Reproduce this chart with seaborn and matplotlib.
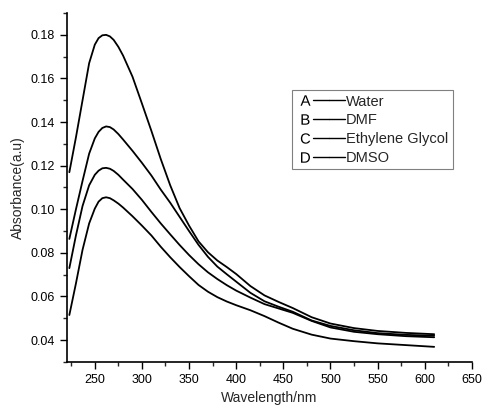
import numpy as np
import pandas as pd
import matplotlib
matplotlib.use("Agg")
import matplotlib.pyplot as plt
from matplotlib.lines import Line2D
from matplotlib.legend_handler import HandlerTuple
from matplotlib.ticker import MultipleLocator
import seaborn as sns

# Values
wavelength = [223, 230, 237, 244, 250, 254, 258, 262, 266, 270, 275, 280, 290, 300, 310, 320,
              330, 340, 350, 360, 370, 380, 390, 400, 415, 430, 445, 460, 480, 500, 525, 550,
              580, 610]
water = [0.117, 0.133, 0.150, 0.167, 0.1755, 0.1785, 0.1798, 0.180, 0.1793, 0.1777, 0.1745,
         0.1705, 0.1608, 0.1485, 0.136, 0.123, 0.111, 0.1005, 0.0925, 0.0853, 0.0803, 0.0765,
         0.0735, 0.0703, 0.0648, 0.0605, 0.0575, 0.0547, 0.0505, 0.0476, 0.0455, 0.0442,
         0.0433, 0.0427]
dmf = [0.0864, 0.100, 0.113, 0.1255, 0.1325, 0.1355, 0.1373, 0.138, 0.1377, 0.1366, 0.1345,
       0.132, 0.1268, 0.1213, 0.1155, 0.109, 0.103, 0.0965, 0.090, 0.0837, 0.0782, 0.0737,
       0.0702, 0.0668, 0.0617, 0.0578, 0.0553, 0.053, 0.049, 0.0465, 0.0445, 0.0432, 0.0424,
       0.0420]
glycol = [0.073, 0.088, 0.1015, 0.111, 0.1158, 0.1177, 0.1188, 0.119, 0.1186, 0.1176, 0.1158,
          0.1136, 0.1093, 0.1043, 0.0988, 0.0935, 0.0885, 0.0836, 0.0790, 0.0748, 0.0711,
          0.0680, 0.0652, 0.0627, 0.0595, 0.0565, 0.0545, 0.0525, 0.0488, 0.0458, 0.0438,
          0.0427, 0.0418, 0.0413]
dmso = [0.0515, 0.066, 0.0814, 0.0935, 0.1003, 0.1035, 0.1051, 0.1055, 0.1051, 0.1041, 0.1026,
        0.1008, 0.0968, 0.0925, 0.088, 0.0828, 0.078, 0.0735, 0.0693, 0.0653, 0.0622, 0.0597,
        0.0577, 0.056, 0.0537, 0.051, 0.048, 0.0452, 0.0425, 0.0407, 0.0395, 0.0385, 0.0377,
        0.0369]

letters = ["A", "B", "C", "D"]
solvents = ["Water", "DMF", "Ethylene Glycol", "DMSO"]

sns.set_style("ticks")
plt.rcParams["font.family"] = ["Liberation Sans", "DejaVu Sans"]
plt.rcParams["mathtext.fontset"] = "custom"
plt.rcParams["mathtext.rm"] = "Liberation Sans"

df = pd.DataFrame({"Wavelength": wavelength, "Water": water, "DMF": dmf,
                   "Ethylene Glycol": glycol, "DMSO": dmso})
df = df.melt(id_vars="Wavelength", var_name="Solvent", value_name="Absorbance")

fig, ax = plt.subplots(figsize=(4.82, 4.08), dpi=100)
fig.subplots_adjust(left=0.138, right=0.979, bottom=0.113, top=0.968)

sns.lineplot(data=df, x="Wavelength", y="Absorbance", hue="Solvent",
             hue_order=solvents, palette=["black"] * 4, linewidth=1.3,
             estimator=None, legend=False, ax=ax)

ax.set_xlim(220, 650)
ax.set_ylim(0.03, 0.19)
ax.xaxis.set_major_locator(MultipleLocator(50))
ax.xaxis.set_minor_locator(MultipleLocator(25))
ax.yaxis.set_major_locator(MultipleLocator(0.02))
ax.yaxis.set_minor_locator(MultipleLocator(0.01))
ax.set_yticks(np.arange(0.04, 0.181, 0.02))
ax.set_yticklabels([f"{v:.2f}" for v in np.arange(0.04, 0.181, 0.02)])
ax.set_xticks(np.arange(250, 651, 50))
ax.tick_params(which="major", direction="out", length=5, width=1, labelsize=9, colors="black")
ax.tick_params(which="minor", direction="out", length=3, width=1)
for side in ["top", "right"]:
    ax.spines[side].set_visible(False)
for side in ["left", "bottom"]:
    ax.spines[side].set_linewidth(1.2)
    ax.spines[side].set_color("black")

ax.set_xlabel("Wavelength/nm", fontsize=10)
ax.set_ylabel("Absorbance(a.u)", fontsize=10)

# legend: letter, line, solvent name
handles = []
for let in letters:
    mark = Line2D([], [], marker=f"$\\mathrm{{{let}}}$", linestyle="none",
                  color="black", markersize=7.5, markeredgewidth=0)
    seg = Line2D([], [], color="black", linewidth=1.0)
    handles.append((mark, seg, seg))
leg = ax.legend(handles, solvents, handler_map={tuple: HandlerTuple(ndivide=None, pad=0)},
                loc="upper right", bbox_to_anchor=(0.953, 0.779), borderaxespad=0,
                fontsize=10.5, handlelength=3.3, handletextpad=0.1, numpoints=1,
                labelspacing=0.33, borderpad=0.3, fancybox=False, framealpha=1)
leg.get_frame().set_edgecolor("#808080")
leg.get_frame().set_linewidth(0.8)

fig.savefig("out.png", dpi=100)
